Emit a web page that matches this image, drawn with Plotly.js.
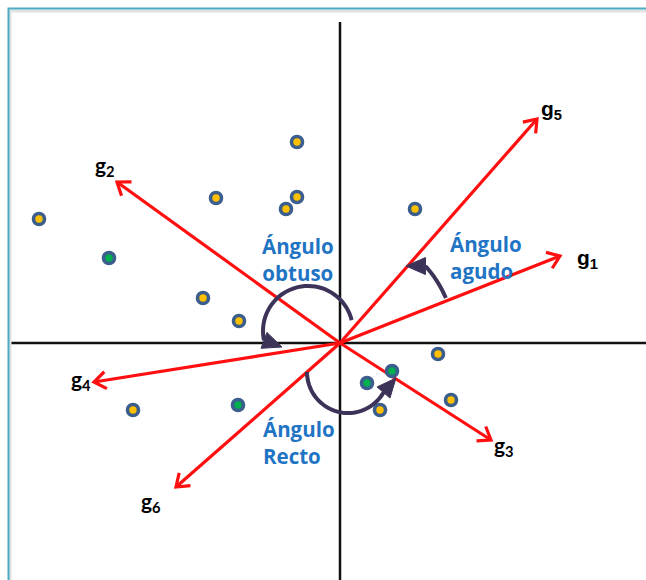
<!DOCTYPE html>
<html>
<head>
<meta charset="utf-8">
<script src="https://cdn.plot.ly/plotly-3.0.1.min.js"></script>
<style>html,body{margin:0;padding:0;background:#fff;}#chart{width:646px;height:580px;}</style>
</head>
<body>
<div id="chart"></div>
<script>
// Observations (arbitrary units, origin at the axes crossing)
const yellowX = [-4.3, -12.4, -4.3, -5.4, -30.1, 7.5, -13.7, -10.1, 9.8, -20.7, 4.0, 11.1];
const yellowY = [20.1, 14.5, 14.6, 13.4, 12.4, 13.4, 4.5, 2.2, -1.1, -6.7, -6.7, -5.7];
const greenX = [-23.1, -10.2, 2.7, 5.2];
const greenY = [8.5, -6.2, -4.0, -2.8];

// Vectors g1..g6 (tips)
const vecNames = ['1', '2', '3', '4', '5', '6'];
const vecX = [22.0, -22.3, 15.1, -24.6, 19.7, -16.4];
const vecY = [8.7, 16.1, -9.7, -3.9, 22.4, -14.4];
const labX = [24.7, -23.5, 16.4, -25.9, 21.1, -18.9];
const labY = [8.4, 17.7, -10.3, -3.7, 23.3, -15.9];

// Angle arcs: centre, radius, start/end angle (deg), arrowhead tip
const arcNames = ['agudo', 'obtuso', 'recto'];
const arcCX = [0, -3.2, 0.8];
const arcCY = [0, 1.2, -2.9];
const arcR = [11.5, 4.5, 4.1];
const arcA0 = [23, 14, 180];
const arcA1 = [42, 192, 330];
const headTipX = [6.6, -5.8, 5.6];
const headTipY = [7.7, -0.4, -3.5];

// Text labels
const angLabels = ['Ángulo<br>obtuso', 'Ángulo<br>agudo', 'Ángulo<br>Recto'];
const angLabX = [-4.2, 10.8, -7.9];
const angLabY = [8.4, 8.6, -9.9];
const angAnchor = ['center', 'left', 'left'];

const RED = '#FF0F0F';
const ARC = '#3D3358';
const BLUE = '#1F74C4';

const traces = [];
// red vector shafts
for (let i = 0; i < vecX.length; i++) {
  traces.push({x: [0, vecX[i]], y: [0, vecY[i]], mode: 'lines', line: {color: RED, width: 3.2}, hoverinfo: 'skip', showlegend: false});
}
traces.push({x: yellowX, y: yellowY, mode: 'markers', showlegend: false,
  marker: {size: 11, color: '#FFC000', line: {color: '#3B5E8C', width: 3.6}}});
traces.push({x: greenX, y: greenY, mode: 'markers', showlegend: false,
  marker: {size: 11, color: '#00B050', line: {color: '#3B5E8C', width: 3.6}}});

const shapes = [];
// frame
shapes.push({type: 'path', xref: 'x', yref: 'y', path: 'M -33.0,-24 L -33.0,33.2 L 31,33.2', line: {color: '#E2E2E2', width: 3}});
shapes.push({type: 'path', xref: 'x', yref: 'y', path: 'M -33.15,-24 L -33.15,33.45 L 31,33.45', line: {color: '#4BACC6', width: 2}});
// axes lines
shapes.push({type: 'line', xref: 'x', yref: 'y', x0: -33.0, x1: 31, y0: 0, y1: 0, line: {color: '#111', width: 2.5}, layer: 'below'});
shapes.push({type: 'line', xref: 'x', yref: 'y', x0: 0, x1: 0, y0: -24, y1: 32.1, line: {color: '#111', width: 2.5}, layer: 'below'});

const f = v => v.toFixed(3);
function arcPath(cx, cy, r, a0, a1) {
  const n = 40;
  let p = '';
  for (let k = 0; k <= n; k++) {
    const a = (a0 + (a1 - a0) * k / n) * Math.PI / 180;
    p += (k === 0 ? 'M ' : ' L ') + f(cx + r * Math.cos(a)) + ',' + f(cy + r * Math.sin(a));
  }
  return p;
}
for (let i = 0; i < arcNames.length; i++) {
  shapes.push({type: 'path', xref: 'x', yref: 'y', path: arcPath(arcCX[i], arcCY[i], arcR[i], arcA0[i], arcA1[i]), line: {color: ARC, width: 4}});
}
// open chevron heads on the red vectors
for (let i = 0; i < vecX.length; i++) {
  const L = Math.hypot(vecX[i], vecY[i]);
  const dx = vecX[i] / L, dy = vecY[i] / L;
  const len = 1.45, ang = 36 * Math.PI / 180;
  const c = Math.cos(ang), s = Math.sin(ang);
  const a1x = vecX[i] - len * (dx * c - dy * s), a1y = vecY[i] - len * (dx * s + dy * c);
  const a2x = vecX[i] - len * (dx * c + dy * s), a2y = vecY[i] - len * (-dx * s + dy * c);
  shapes.push({type: 'path', xref: 'x', yref: 'y',
    path: 'M ' + f(a1x) + ',' + f(a1y) + ' L ' + f(vecX[i]) + ',' + f(vecY[i]) + ' L ' + f(a2x) + ',' + f(a2y),
    line: {color: RED, width: 3.2}});
}
// filled triangular heads on the angle arcs, base at arc end
for (let i = 0; i < arcNames.length; i++) {
  const ae = arcA1[i] * Math.PI / 180;
  const tx = arcCX[i] + arcR[i] * Math.cos(ae), ty = arcCY[i] + arcR[i] * Math.sin(ae);
  const vx = headTipX[i] - tx, vy = headTipY[i] - ty;
  const L = Math.hypot(vx, vy);
  const dx = vx / L, dy = vy / L;
  const hw = 0.85;
  shapes.push({type: 'path', xref: 'x', yref: 'y',
    path: 'M ' + f(headTipX[i]) + ',' + f(headTipY[i]) + ' L ' + f(tx - dy * hw) + ',' + f(ty + dx * hw) +
      ' L ' + f(tx + dy * hw) + ',' + f(ty - dx * hw) + ' Z',
    fillcolor: ARC, line: {color: ARC, width: 1}});
}

const annotations = [];
for (let i = 0; i < vecX.length; i++) {
  const fam = (i === 0 || i === 4) ? 'Liberation Sans' : 'Lato';
  annotations.push({x: labX[i], y: labY[i], xref: 'x', yref: 'y', showarrow: false,
    text: '<b>g<sub>' + vecNames[i] + '</sub></b>', font: {family: fam, size: 21, color: '#000'}});
}
for (let i = 0; i < angLabels.length; i++) {
  annotations.push({x: angLabX[i], y: angLabY[i], xref: 'x', yref: 'y', showarrow: false,
    text: '<b>' + angLabels[i] + '</b>', align: angAnchor[i], xanchor: angAnchor[i],
    font: {family: 'Open Sans', size: 20.5, color: BLUE}});
}

const layout = {
  width: 646, height: 580,
  margin: {l: 0, r: 0, t: 0, b: 0},
  paper_bgcolor: '#fff', plot_bgcolor: '#fff',
  xaxis: {range: [-34, 30.6], visible: false, fixedrange: true},
  yaxis: {range: [-23.7, 34.3], visible: false, fixedrange: true},
  shapes: shapes, annotations: annotations, showlegend: false
};
Plotly.newPlot('chart', traces, layout, {staticPlot: true});
</script>
</body>
</html>
